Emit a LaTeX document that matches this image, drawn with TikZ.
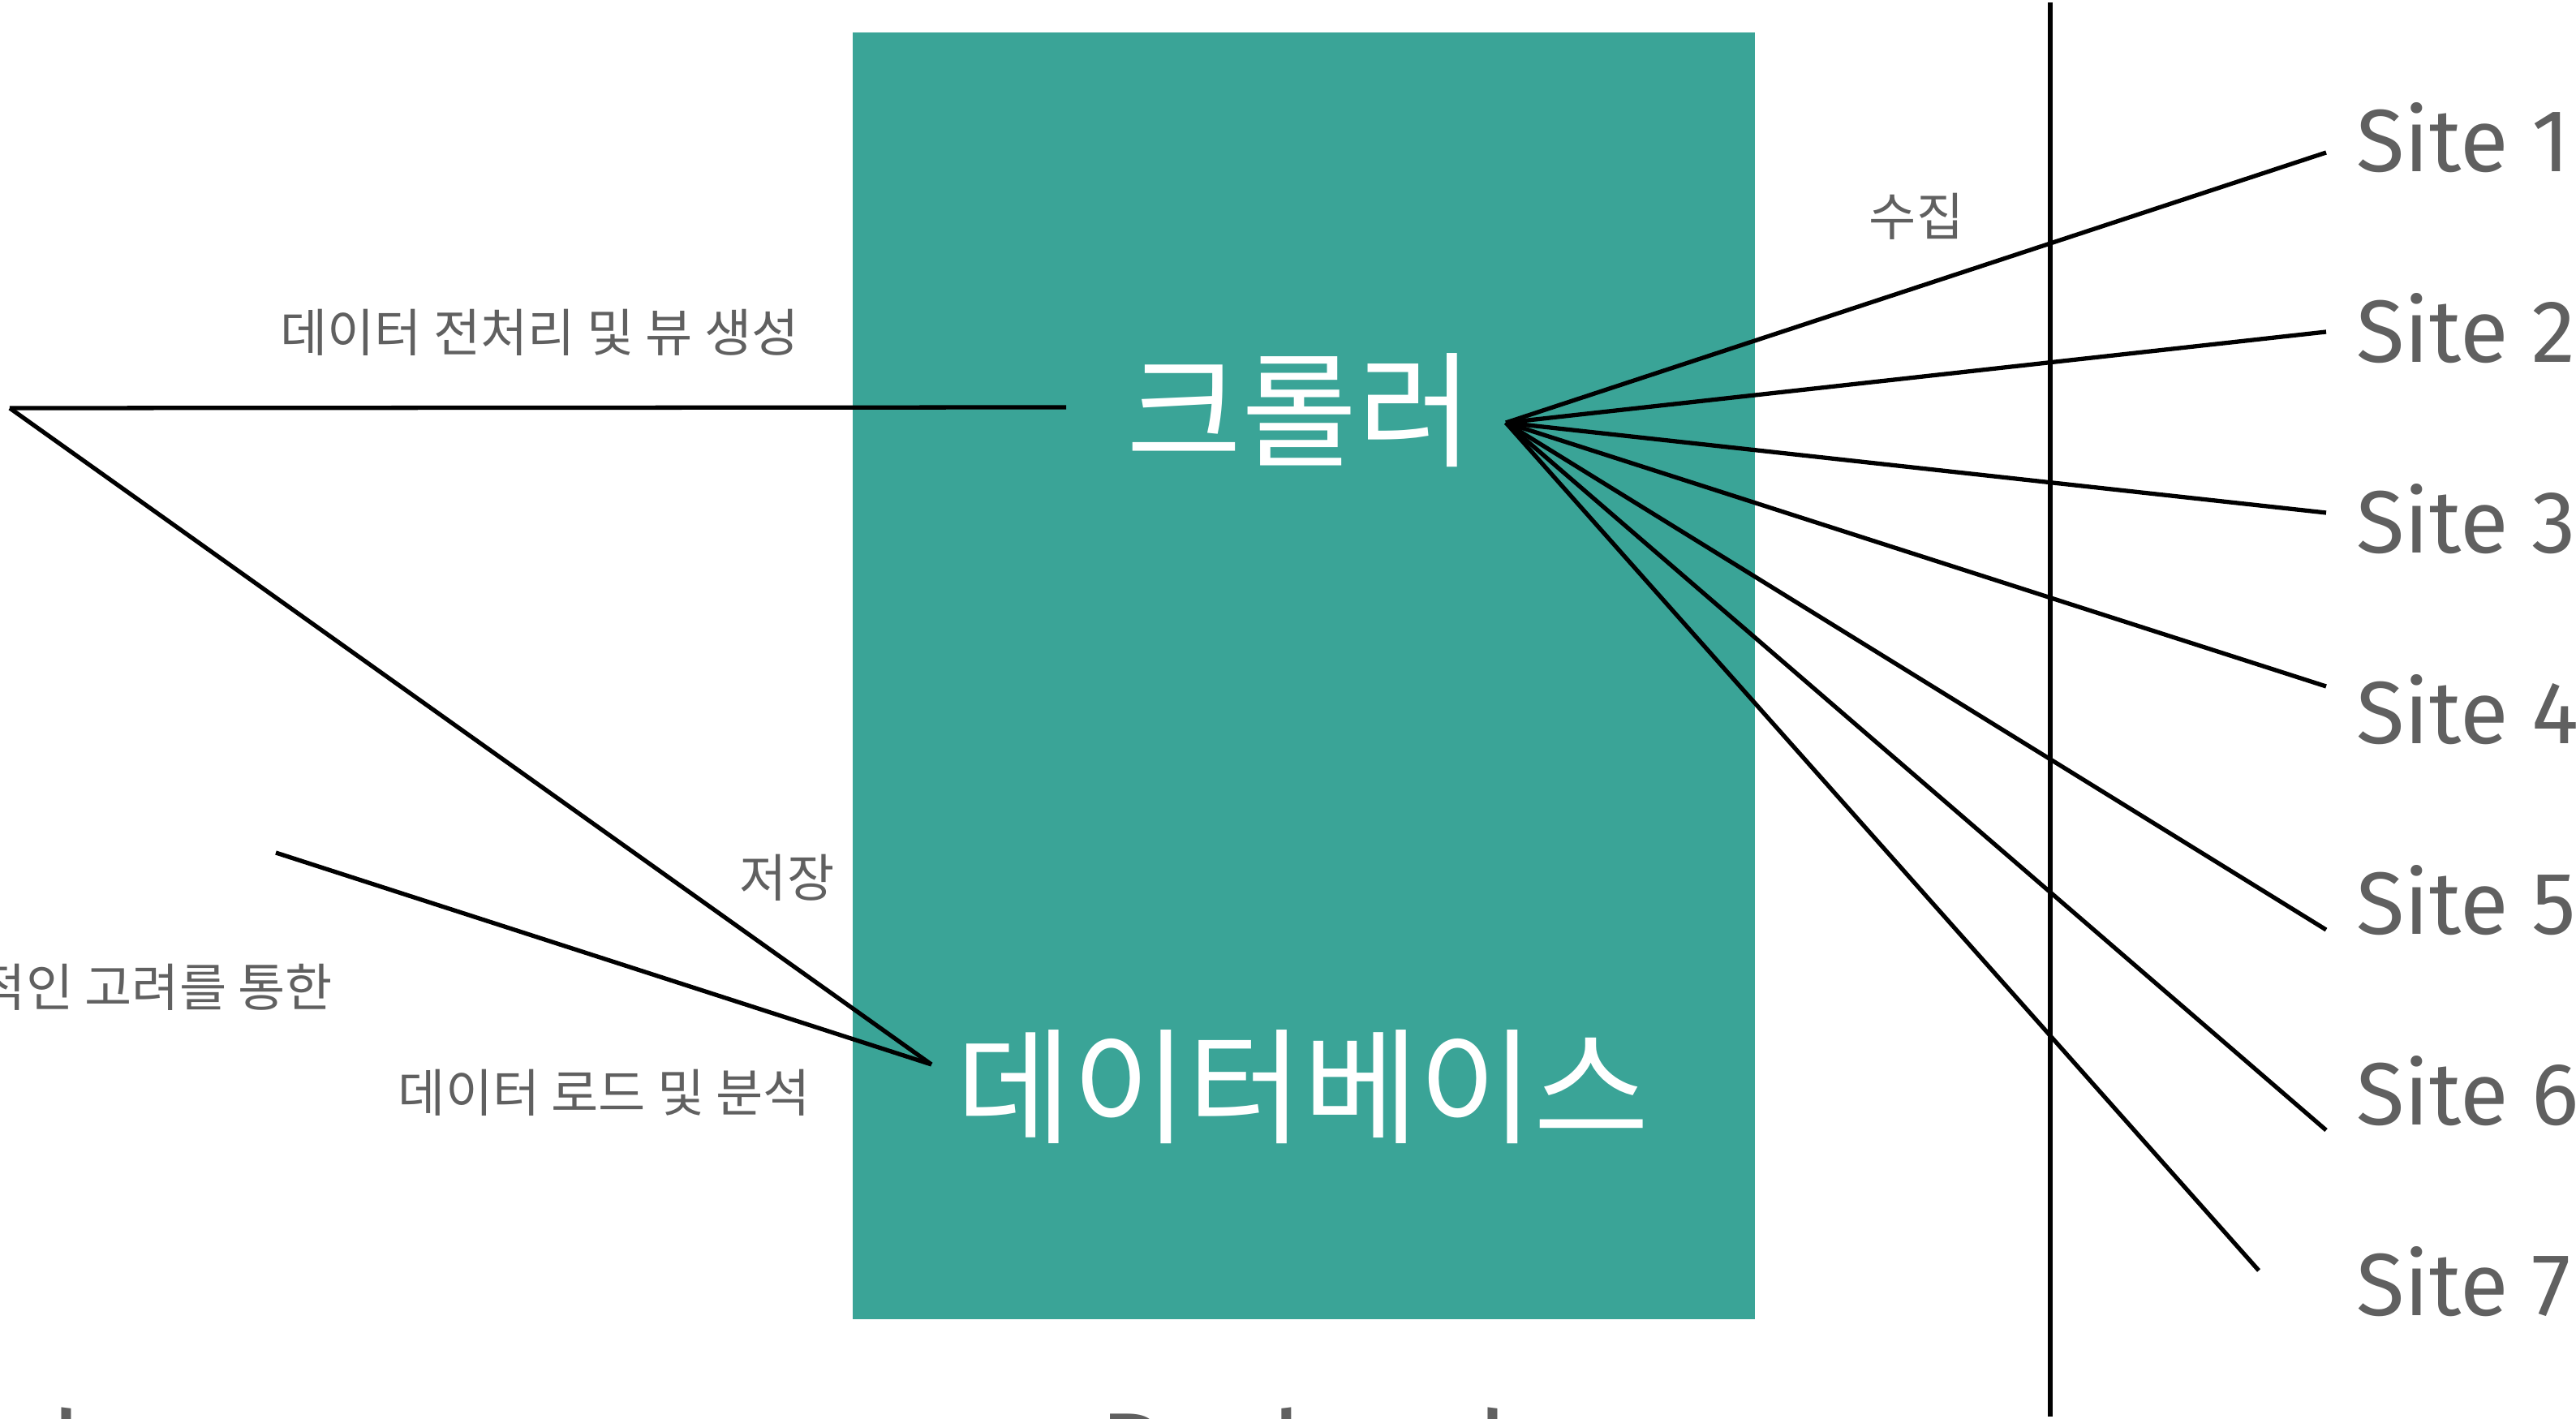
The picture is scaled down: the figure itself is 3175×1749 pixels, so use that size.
\documentclass[tikz,border=0pt]{standalone}
\usepackage{fontspec}
\setmainfont{Fira Sans}
\newfontfamily\kr{Noto Sans CJK KR}
\usetikzlibrary{positioning}
\definecolor{boxteal}{RGB}{58,164,151}
\definecolor{txtgray}{RGB}{96,96,96}
\tikzstyle{every node}=[inner sep=0pt, outer sep=0pt]
\tikzset{lbl/.style={text=txtgray, font=\kr\fontsize{18}{18}\selectfont}}
\tikzset{big/.style={text=white, font=\kr\fontsize{44}{44}\selectfont}}
\tikzset{site/.style={text=txtgray, font=\fontsize{31}{31}\selectfont, anchor=west}}
\tikzset{tier/.style={text=txtgray, font=\fontsize{37}{37}\selectfont}}
\tikzset{wire/.style={line width=1.5pt}}

\begin{document}
\begin{tikzpicture}[x=0.01cm, y=-0.01cm]
    \useasboundingbox (0,0) rectangle (3175,1749);
    \clip (0,0) rectangle (3175,1749);
    \fill[boxteal] (1051,40) rectangle (2163,1626);

    \node[big] (crawler) at (1602,506) {크롤러};
    \node[big] (db) at (1606,1340) {데이터베이스};
    \node[tier, anchor=base] (backend) at (1607,1832) {Backend};
    \node[tier, anchor=base east] (frontend) at (100,1832) {Frontend};

    \node[lbl] (prep) at (665,410) {데이터 전처리 및 뷰 생성};
    \node[lbl] (store) at (970,1082) {저장};
    \node[lbl, anchor=east] (consider) at (410,1217) {적인 고려를 통한};
    \node[lbl] (load) at (745,1347) {데이터 로드 및 분석};
    \node[lbl] (collect) at (2362,267) {수집};

    \foreach \i in {1,...,7}
        \node[site] (site\i) at (2904,{170+235*(\i-1)}) {Site \i};

    \coordinate (hub) at (1856,521);
    \coordinate (crawlin) at (1314,502);
    \coordinate (fork) at (12,503);
    \coordinate (dbin) at (1148,1312);
    \coordinate (loadend) at (340,1051);
    \foreach \i/\y in {1/188,2/409,3/632,4/846,5/1146,6/1393}
        \coordinate (end\i) at (2867,\y);
    \coordinate (end7) at (2784,1566);

    \draw[wire] (fork) -- (crawlin);
    \draw[wire] (fork) -- (dbin);
    \draw[wire] (loadend) -- (dbin);
    \foreach \i in {1,...,7}
        \draw[wire] (hub) -- (end\i);
    \draw[wire] (2527,3) -- (2527,1746);
\end{tikzpicture}
\end{document}
